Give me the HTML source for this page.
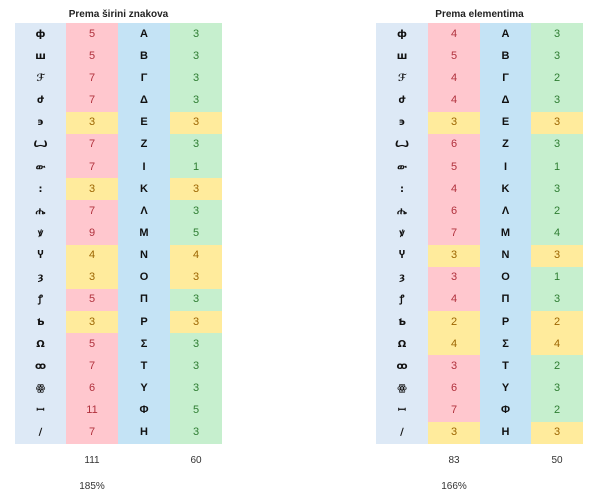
<!DOCTYPE html>
<html><head><meta charset="utf-8"><style>
body{margin:0;width:600px;height:500px;background:#fff;font-family:"Liberation Sans",sans-serif;position:relative;overflow:hidden}
.t{position:absolute;top:23px;border-collapse:collapse;table-layout:fixed}
.t td{height:22.16px;padding:0;text-align:center;font-size:11px;line-height:11px}
.g{background:#dde9f6;font-family:"DejaVu Sans",sans-serif;font-weight:bold;font-size:10px!important;color:#111}
.l{background:#c4e3f5;font-weight:bold;color:#111}
.p{background:#ffc7ce;color:#b0303c}
.n{background:#c6efce;color:#2e7d32}
.y{background:#ffeb9c;color:#9c6500}
.h{position:absolute;top:9px;font-size:10px;font-weight:bold;color:#222;text-align:center;width:207px}
.s{position:absolute;font-size:10px;color:#333;width:52px;text-align:center}
</style></head><body>
<div class="h" style="left:15px">Prema širini znakova</div>
<div class="h" style="left:376px">Prema elementima</div>
<table class="t" style="left:15px;width:207px">
<colgroup><col style="width:51px"><col style="width:52px"><col style="width:52px"><col style="width:52px"></colgroup>
<tr><td class="g">ф</td><td class="p">5</td><td class="l">A</td><td class="n">3</td></tr>
<tr><td class="g">ш</td><td class="p">5</td><td class="l">B</td><td class="n">3</td></tr>
<tr><td class="g">ℱ</td><td class="p">7</td><td class="l">Γ</td><td class="n">3</td></tr>
<tr><td class="g">ժ</td><td class="p">7</td><td class="l">Δ</td><td class="n">3</td></tr>
<tr><td class="g">϶</td><td class="y">3</td><td class="l">E</td><td class="y">3</td></tr>
<tr><td class="g">Ꙍ</td><td class="p">7</td><td class="l">Z</td><td class="n">3</td></tr>
<tr><td class="g">ው</td><td class="p">7</td><td class="l">I</td><td class="n">1</td></tr>
<tr><td class="g">:</td><td class="y">3</td><td class="l">K</td><td class="y">3</td></tr>
<tr><td class="g">ሔ</td><td class="p">7</td><td class="l">Λ</td><td class="n">3</td></tr>
<tr><td class="g">ꝟ</td><td class="p">9</td><td class="l">M</td><td class="n">5</td></tr>
<tr><td class="g">Ⴤ</td><td class="y">4</td><td class="l">N</td><td class="y">4</td></tr>
<tr><td class="g">ȝ</td><td class="y">3</td><td class="l">O</td><td class="y">3</td></tr>
<tr><td class="g">ꝭ</td><td class="p">5</td><td class="l">Π</td><td class="n">3</td></tr>
<tr><td class="g">Ƅ</td><td class="y">3</td><td class="l">P</td><td class="y">3</td></tr>
<tr><td class="g">Ω</td><td class="p">5</td><td class="l">Σ</td><td class="n">3</td></tr>
<tr><td class="g">ꝏ</td><td class="p">7</td><td class="l">T</td><td class="n">3</td></tr>
<tr><td class="g">ꙮ</td><td class="p">6</td><td class="l">Y</td><td class="n">3</td></tr>
<tr><td class="g">ꟷ</td><td class="p">11</td><td class="l">Φ</td><td class="n">5</td></tr>
<tr><td class="g">∕</td><td class="p">7</td><td class="l">H</td><td class="n">3</td></tr>
</table>
<table class="t" style="left:376px;width:207px">
<colgroup><col style="width:52px"><col style="width:52px"><col style="width:51px"><col style="width:52px"></colgroup>
<tr><td class="g">ф</td><td class="p">4</td><td class="l">A</td><td class="n">3</td></tr>
<tr><td class="g">ш</td><td class="p">5</td><td class="l">B</td><td class="n">3</td></tr>
<tr><td class="g">ℱ</td><td class="p">4</td><td class="l">Γ</td><td class="n">2</td></tr>
<tr><td class="g">ժ</td><td class="p">4</td><td class="l">Δ</td><td class="n">3</td></tr>
<tr><td class="g">϶</td><td class="y">3</td><td class="l">E</td><td class="y">3</td></tr>
<tr><td class="g">Ꙍ</td><td class="p">6</td><td class="l">Z</td><td class="n">3</td></tr>
<tr><td class="g">ው</td><td class="p">5</td><td class="l">I</td><td class="n">1</td></tr>
<tr><td class="g">:</td><td class="p">4</td><td class="l">K</td><td class="n">3</td></tr>
<tr><td class="g">ሔ</td><td class="p">6</td><td class="l">Λ</td><td class="n">2</td></tr>
<tr><td class="g">ꝟ</td><td class="p">7</td><td class="l">M</td><td class="n">4</td></tr>
<tr><td class="g">Ⴤ</td><td class="y">3</td><td class="l">N</td><td class="y">3</td></tr>
<tr><td class="g">ȝ</td><td class="p">3</td><td class="l">O</td><td class="n">1</td></tr>
<tr><td class="g">ꝭ</td><td class="p">4</td><td class="l">Π</td><td class="n">3</td></tr>
<tr><td class="g">Ƅ</td><td class="y">2</td><td class="l">P</td><td class="y">2</td></tr>
<tr><td class="g">Ω</td><td class="y">4</td><td class="l">Σ</td><td class="y">4</td></tr>
<tr><td class="g">ꝏ</td><td class="p">3</td><td class="l">T</td><td class="n">2</td></tr>
<tr><td class="g">ꙮ</td><td class="p">6</td><td class="l">Y</td><td class="n">3</td></tr>
<tr><td class="g">ꟷ</td><td class="p">7</td><td class="l">Φ</td><td class="n">2</td></tr>
<tr><td class="g">∕</td><td class="y">3</td><td class="l">H</td><td class="y">3</td></tr>
</table>
<div class="s" style="left:66px;top:455px">111</div>
<div class="s" style="left:170px;top:455px">60</div>
<div class="s" style="left:66px;top:481px">185%</div>
<div class="s" style="left:428px;top:455px">83</div>
<div class="s" style="left:531px;top:455px">50</div>
<div class="s" style="left:428px;top:481px">166%</div>
</body></html>
